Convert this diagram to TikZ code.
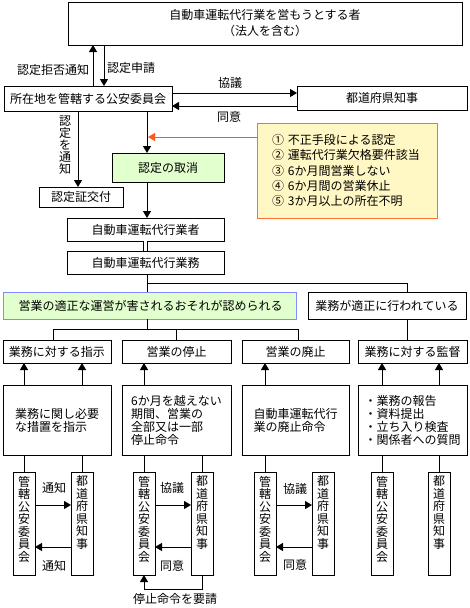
\documentclass[tikz,border=0pt]{standalone}
\usepackage{fontspec}
\newfontfamily\jpfont{Noto Sans CJK JP}
\usetikzlibrary{arrows.meta}
\definecolor{cgreen}{RGB}{226,255,206}
\definecolor{hblue}{RGB}{128,140,255}
\definecolor{rborder}{RGB}{255,110,50}
\definecolor{ryellow}{RGB}{255,247,196}
\definecolor{rarrow}{RGB}{255,85,30}
\begin{document}
\begin{tikzpicture}[x=1pt,y=-1pt,
  every node/.style={font=\jpfont\fontsize{12}{13}\selectfont, inner sep=0pt, outer sep=0pt},
  box/.style={draw, line width=1pt},
  ln/.style={line width=1pt},
  arr/.style={line width=1pt, -{Triangle[width=8pt,length=7pt]}},
  tate/.style={box, minimum width=22pt, minimum height=103pt, font=\jpfont\fontsize{12}{12.5}\selectfont}]
\useasboundingbox (0,0) rectangle (470,608);
% coordinates
\coordinate (xRef) at (93,0);
\coordinate (xApp) at (104,0);
\coordinate (xNot) at (78,0);
\coordinate (xMain) at (147,0);
\coordinate (xProp) at (407,0);
\coordinate (xI1) at (24,0);
\coordinate (xI2) at (82,0);
\coordinate (xS1) at (144,0);
\coordinate (xS2) at (202,0);
\coordinate (xA1) at (265,0);
\coordinate (xV1) at (382,0);
\coordinate (xV2) at (439,0);
\coordinate (xH2) at (176,0);
\coordinate (yK1) at (0,93);
\coordinate (yK2) at (0,106);
\coordinate (yJ) at (0,283);
\coordinate (hL) at (53,329);
\coordinate (hR) at (298,329);
\coordinate (yG1) at (0,505);
\coordinate (yG2) at (0,547);
\coordinate (redtip) at (148,137);
% nodes
\node[box, minimum width=394pt, minimum height=43pt, align=center] (top) at (265,23.5) {自動車運転代行業を営もうとする者\\[3pt]（法人を含む）};
\node[box, minimum width=168pt, minimum height=25pt] (psc) at (88,98.5) {所在地を管轄する公安委員会};
\node[box, minimum width=170pt, minimum height=24pt] (gov) at (382,98) {都道府県知事};
\node[box, minimum width=84pt, minimum height=20pt] (cert) at (81,197) {認定証交付};
\node[box, fill=cgreen, minimum width=112pt, minimum height=29pt] (cancel) at (168,167.5) {認定の取消};
\node[draw=rborder, fill=ryellow, line width=1pt, minimum width=180pt, minimum height=95pt, text width=150pt, align=left, font=\jpfont\fontsize{12}{15.3}\selectfont] (reasons) at (347,170.5) {① 不正手段による認定\\② 運転代行業欠格要件該当\\③ 6か月間営業しない\\④ 6か月間の営業休止\\⑤ 3か月以上の所在不明};
\node[box, minimum width=157pt, minimum height=23pt] (oper) at (145.5,229.5) {自動車運転代行業者};
\node[box, minimum width=157pt, minimum height=23pt] (biz) at (145.5,262.5) {自動車運転代行業務};
\node[box, draw=hblue, fill=cgreen, minimum width=293pt, minimum height=27pt, text width=266pt, align=right] (harm) at (149.5,305.5) {営業の適正な運営が害されるおそれが認められる};
\node[box, minimum width=158pt, minimum height=27pt] (proper) at (387,305.5) {業務が適正に行われている};
% row 2
\node[box, minimum width=108pt, minimum height=23pt] (instr) at (57,351.5) {業務に対する指示};
\node[box, minimum width=109pt, minimum height=23pt] (stop) at (176.5,351.5) {営業の停止};
\node[box, minimum width=107pt, minimum height=23pt] (abol) at (295.5,351.5) {営業の廃止};
\node[box, minimum width=109pt, minimum height=23pt] (super) at (412.5,351.5) {業務に対する監督};
% row 3
\node[box, minimum width=108pt, minimum height=70pt, align=left] (instrD) at (57,420) {業務に関し必要\\な措置を指示};
\node[box, minimum width=109pt, minimum height=70pt, align=left] (stopD) at (176.5,420) {6か月を越えない\\期間、営業の\\全部又は一部\\停止命令};
\node[box, minimum width=107pt, minimum height=70pt, align=left] (abolD) at (295.5,420) {自動車運転代行\\業の廃止命令};
\node[box, minimum width=109pt, minimum height=70pt, align=left] (superD) at (412.5,420) {・業務の報告\\・資料提出\\・立ち入り検査\\・関係者への質問};
% row 4
\node[tate] (g1a) at (24,523.5) {\parbox[c][95pt][t]{14pt}{\centering 管\\轄\\公\\安\\委\\員\\会}};
\node[tate] (g1b) at (82,523.5) {\parbox[c][95pt][t]{14pt}{\centering 都\\道\\府\\県\\知\\事}};
\node[tate] (g2a) at (144,523.5) {\parbox[c][95pt][t]{14pt}{\centering 管\\轄\\公\\安\\委\\員\\会}};
\node[tate] (g2b) at (202,523.5) {\parbox[c][95pt][t]{14pt}{\centering 都\\道\\府\\県\\知\\事}};
\node[tate] (g3a) at (265,523.5) {\parbox[c][95pt][t]{14pt}{\centering 管\\轄\\公\\安\\委\\員\\会}};
\node[tate] (g3b) at (323,523.5) {\parbox[c][95pt][t]{14pt}{\centering 都\\道\\府\\県\\知\\事}};
\node[tate] (g4a) at (382,523.5) {\parbox[c][95pt][t]{14pt}{\centering 管\\轄\\公\\安\\委\\員\\会}};
\node[tate] (g4b) at (439,523.5) {\parbox[c][95pt][t]{14pt}{\centering 都\\道\\府\\県\\知\\事}};
% labels
\node[anchor=east] (lref) at (89,70) {認定拒否通知};
\node[anchor=west] (lapp) at (107,68) {認定申請};
\node (lkyo) at (230,83) {協議};
\node (ldoi) at (229,117) {同意};
\node[align=center, font=\jpfont\fontsize{12}{12}\selectfont] (lnot) at (65,145) {認\\定\\を\\通\\知};
\node (l1a) at (54,488) {通知};
\node (l1b) at (54,566) {通知};
\node (l2a) at (172,488) {協議};
\node (l2b) at (172,566) {同意};
\node (l3a) at (295,489) {協議};
\node (l3b) at (295,565) {同意};
\node (lreq) at (175,599) {停止命令を要請};
% connectors
\draw[arr] (psc.north -| xRef) -- (top.south -| xRef);
\draw[arr] (top.south -| xApp) -- (psc.north -| xApp);
\draw[arr] (psc.east |- yK1) -- (gov.west |- yK1);
\draw[arr] (gov.west |- yK2) -- (psc.east |- yK2);
\draw[arr] (psc.south -| xNot) -- (cert.north -| xNot);
\draw[arr] (psc.south -| xMain) -- (cancel.north -| xMain);
\draw[arr, draw=rarrow, fill=rarrow] (reasons.west |- redtip) -- (redtip);
\draw[arr] (cancel.south -| xMain) -- (oper.north -| xMain);
\draw[line width=1pt, double distance=2.5pt] (oper.south) -- (biz.north);
\draw[ln] (biz.south -| xMain) -- (harm.north -| xMain);
\draw[ln] (xMain |- yJ) -| (proper.north -| xProp);
\draw[ln] (harm.south -| xMain) -- (xMain |- hL);
\draw[ln] (instr.north -| hL) -- (hL) -- (hR) -- (abol.north -| hR);
\draw[ln] (stop.north -| xH2) -- (xH2 |- hL);
\draw[ln] (proper.south -| xProp) -- (super.north -| xProp);
% row3 -> row2
\draw[arr] (instrD.north -| xI1) -- (instr.south -| xI1);
\draw[arr] (instrD.north -| xI2) -- (instr.south -| xI2);
\draw[arr] (stopD.north -| xS1) -- (stop.south -| xS1);
\draw[arr] (abolD.north -| xA1) -- (abol.south -| xA1);
\draw[arr] (superD.north -| xV1) -- (super.south -| xV1);
\draw[arr] (superD.north -| xV2) -- (super.south -| xV2);
% row4 -> row3
\draw[ln] (g1a.north) -- (instrD.south -| g1a.north);
\draw[ln] (g1b.north) -- (instrD.south -| g1b.north);
\draw[ln] (g2a.north) -- (stopD.south -| g2a.north);
\draw[ln] (g2b.north) -- (stopD.south -| g2b.north);
\draw[ln] (g3a.north) -- (abolD.south -| g3a.north);
\draw[ln] (g4a.north) -- (superD.south -| g4a.north);
\draw[ln] (g4b.north) -- (superD.south -| g4b.north);
% group arrows
\draw[arr] (g1a.east |- yG1) -- (g1b.west |- yG1);
\draw[arr] (g1b.west |- yG2) -- (g1a.east |- yG2);
\draw[arr] (g2a.east |- yG1) -- (g2b.west |- yG1);
\draw[arr] (g2b.west |- yG2) -- (g2a.east |- yG2);
\draw[arr] (g3a.east |- yG1) -- (g3b.west |- yG1);
\draw[arr] (g3b.west |- yG2) -- (g3a.east |- yG2);
\draw[arr] (g2b.south) -- ++(0,14) -| (g2a.south);
\end{tikzpicture}
\end{document}
